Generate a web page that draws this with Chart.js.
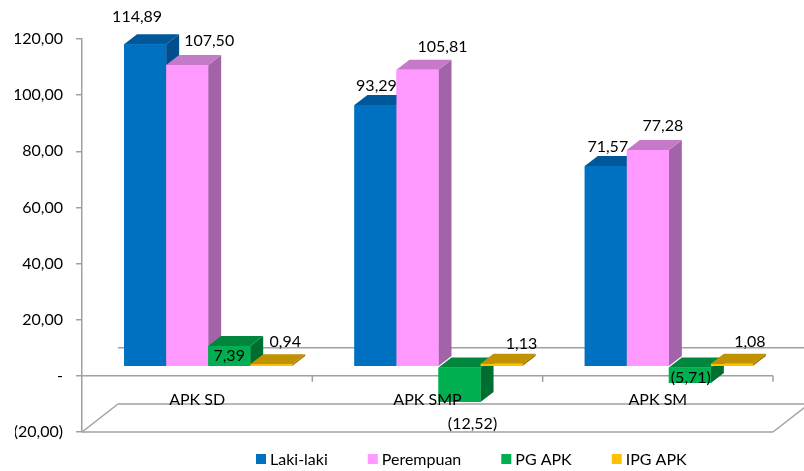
<!DOCTYPE html>
<html>
<head>
<meta charset="utf-8">
<script src="https://cdn.jsdelivr.net/npm/chart.js@4.4.1/dist/chart.umd.min.js"></script>
<style>
    html, body { margin: 0; padding: 0; background: #fff; }
</style>
</head>
<body>
<canvas id="apkChart" width="804" height="471"></canvas>
<script>
const categories = ["APK SD", "APK SMP", "APK SM"];
const seriesNames = ["Laki-laki", "Perempuan", "PG APK", "IPG APK"];
const lakiLaki = [114.89, 93.29, 71.57];
const perempuan = [107.50, 105.81, 77.28];
const pgApk = [7.39, -12.52, -5.71];
const ipgApk = [0.94, 1.13, 1.08];
const yMin = -20, yMax = 120, yStep = 20;

// colori: fronte, sopra, lato
const fronts = ["#0070C0", "#FF99FF", "#00B050", "#FFC000"];
const tops = ["#00589B", "#C57AC8", "#00873D", "#C09100"];
const sides = ["#004F8C", "#A263A8", "#006E31", "#A07A00"];

const depth = { x: 13, y: -10 };   // profondita' delle barre
const shift = { x: 11, y: -9 };    // le barre stanno a meta' del pavimento
const wall = { x: 36, y: -28 };    // parete di fondo
const lineColor = "#A0A0A0";
const font = "Lato";

// spostamento delle etichette dei valori (come nell'originale)
const labelNudge = [
    [[-8, -28], [1, -19], [2, -19]],
    [[22, -24], [25, -23], [15, -24]],
    [[0, 10], [13, 22], [1, -5]],
    [[14, -22], [20, -20], [18, -22]]
];

function fmt(v) {
    const s = Math.abs(v).toFixed(2).replace(".", ",");
    return v < 0 ? "(" + s + ")" : s;
}

function poly(ctx, pts, color) {
    ctx.beginPath();
    ctx.moveTo(pts[0][0], pts[0][1]);
    for (let i = 1; i < pts.length; i++) ctx.lineTo(pts[i][0], pts[i][1]);
    ctx.closePath();
    ctx.fillStyle = color;
    ctx.fill();
}

function line(ctx, x1, y1, x2, y2) {
    ctx.beginPath();
    ctx.moveTo(x1, y1);
    ctx.lineTo(x2, y2);
    ctx.stroke();
}

const bars3d = {
    id: "bars3d",
    beforeDatasetsDraw(chart) {
        const ctx = chart.ctx;
        const { left, right } = chart.chartArea;
        const y = chart.scales.y;
        const x = chart.scales.x;
        const y0 = y.getPixelForValue(0);
        const yb = y.getPixelForValue(yMin);
        const step = (right - left) / categories.length;

        ctx.save();
        ctx.strokeStyle = lineColor;
        ctx.lineWidth = 1.5;
        // pavimento
        line(ctx, left, yb, right, yb);
        line(ctx, left + wall.x, yb + wall.y, right + wall.x, yb + wall.y);
        line(ctx, left, yb, left + wall.x, yb + wall.y);
        line(ctx, right, yb, right + wall.x, yb + wall.y);
        // linea dello zero, dietro e davanti
        line(ctx, left + wall.x, y0 + wall.y, right + wall.x, y0 + wall.y);
        line(ctx, left, y0, right, y0);
        for (let i = 1; i <= categories.length; i++) {
            line(ctx, left + i * step, y0, left + i * step, y0 + 6);
        }
        ctx.restore();

        ctx.save();
        ctx.translate(shift.x, shift.y);
    },
    afterDatasetsDraw(chart) {
        const ctx = chart.ctx;
        const metas = chart.data.datasets.map((d, i) => chart.getDatasetMeta(i));

        // facce laterali e superiori, barra per barra da sinistra a destra
        categories.forEach((c, j) => {
            metas.forEach((meta, i) => {
                const el = meta.data[j];
                const l = el.x - el.width / 2;
                const r = el.x + el.width / 2;
                const t = Math.min(el.y, el.base);
                const b = Math.max(el.y, el.base);
                poly(ctx, [[r, t], [r + depth.x, t + depth.y], [r + depth.x, b + depth.y], [r, b]], sides[i]);
                poly(ctx, [[l, t], [r, t], [r + depth.x, t + depth.y], [l + depth.x, t + depth.y]], tops[i]);
                el.draw(ctx);
            });
        });

        // etichette dei valori
        ctx.fillStyle = "#000";
        ctx.font = "16px " + font;
        ctx.textAlign = "center";
        ctx.textBaseline = "middle";
        metas.forEach((meta, i) => {
            const values = chart.data.datasets[i].data;
            meta.data.forEach((el, j) => {
                const n = labelNudge[i][j];
                ctx.fillText(fmt(values[j]), el.x + n[0], el.y + n[1]);
            });
        });
        ctx.restore();

        // etichette delle categorie
        const y0 = chart.scales.y.getPixelForValue(0);
        ctx.save();
        ctx.fillStyle = "#000";
        ctx.font = "16px " + font;
        ctx.textAlign = "center";
        ctx.textBaseline = "middle";
        categories.forEach((c, j) => {
            ctx.fillText(c, chart.scales.x.getPixelForValue(j), y0 + 24);
        });

        // legenda
        ctx.textAlign = "left";
        let lx = 256;
        const ly = 459;
        seriesNames.forEach((name, i) => {
            ctx.fillStyle = fronts[i];
            ctx.fillRect(lx, ly - 5, 10, 10);
            ctx.fillStyle = "#000";
            ctx.fillText(name, lx + 14, ly + 1);
            lx += 14 + ctx.measureText(name).width + 40;
        });
        ctx.restore();
    }
};

new Chart(document.getElementById("apkChart").getContext("2d"), {
    type: "bar",
    data: {
        labels: categories,
        datasets: [lakiLaki, perempuan, pgApk, ipgApk].map((values, i) => ({
            label: seriesNames[i],
            data: values,
            backgroundColor: fronts[i],
            borderWidth: 0,
            clip: false,
            barPercentage: 1,
            categoryPercentage: 0.73
        }))
    },
    options: {
        responsive: false,
        devicePixelRatio: 1,
        animation: false,
        layout: { padding: { left: 15, right: 31, top: 39, bottom: 39 } },
        scales: {
            x: { display: false },
            y: {
                min: yMin,
                max: yMax,
                ticks: {
                    stepSize: yStep,
                    padding: 13,
                    color: "#000",
                    font: { family: font, size: 16 },
                    callback: v => v === 0 ? "-" : fmt(v)
                },
                grid: { drawOnChartArea: false, drawTicks: true, tickLength: 6, color: lineColor, lineWidth: 1.5 },
                border: { display: true, color: lineColor, width: 1.5 },
                afterFit: s => { s.width = 67; }
            }
        },
        plugins: {
            legend: { display: false },
            tooltip: { enabled: false }
        }
    },
    plugins: [bars3d]
});
</script>
</body>
</html>
